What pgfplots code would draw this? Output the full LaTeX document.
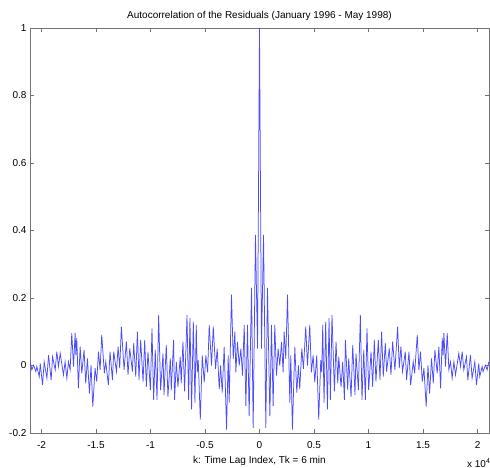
\documentclass[border=0pt]{standalone}
\usepackage{pgfplots}
\pgfplotsset{compat=1.18}
\usepackage{fontspec}
\setmainfont{Liberation Sans}
\begin{document}
\begin{tikzpicture}[font=\fontsize{10pt}{12pt}\selectfont]
\useasboundingbox (0,0) rectangle (490pt,468pt);
\begin{axis}[
  at={(30pt,35pt)}, anchor=south west,
  width=459pt, height=405pt, scale only axis,
  xmin=-2.105, xmax=2.105, ymin=-0.2, ymax=1,
  xtick={-2,-1.5,-1,-0.5,0,0.5,1,1.5,2},
  ytick={-0.2,0,0.2,0.4,0.6,0.8,1},
  xticklabels={-2,-1.5,-1,-0.5,0,0.5,1,1.5,2},
  yticklabels={-0.2,0,0.2,0.4,0.6,0.8,1},
  tick align=inside, major tick length=4pt,
  axis line style={gray!90!black}, tick style={gray!90!black, line width=0.4pt},
  title={Autocorrelation of the Residuals (January 1996 - May 1998)},
  title style={yshift=-2pt},
  xlabel={k: Time Lag Index, Tk = 6 min},
  xlabel style={yshift=-0.5pt},
  xticklabel style={yshift=-5pt},
  /pgf/number format/assume math mode=true,
  clip mode=individual,
]
\addplot[color={rgb,255:red,75;green,75;blue,255}, line width=0.75pt] coordinates {
(-2.103,0.011) (-2.088,-0.013) (-2.072,0.001) (-2.051,-0.018) (-2.042,-0.003) (-2.020,-0.033)
(-2.011,0.006) (-1.990,-0.058) (-1.975,0.011) (-1.950,-0.038) (-1.935,0.031) (-1.911,-0.043)
(-1.898,0.026) (-1.874,-0.013) (-1.859,0.041) (-1.844,-0.003) (-1.828,0.036) (-1.798,-0.028)
(-1.783,0.011) (-1.767,-0.038) (-1.752,0.011) (-1.737,-0.013) (-1.722,0.096) (-1.706,-0.003)
(-1.691,0.096) (-1.684,0.030) (-1.676,0.081) (-1.661,-0.068) (-1.645,0.056) (-1.630,-0.023)
(-1.609,0.046) (-1.594,-0.053) (-1.578,0.021) (-1.560,-0.083) (-1.545,0.001) (-1.529,-0.122)
(-1.508,-0.008) (-1.493,-0.048) (-1.477,0.041) (-1.462,-0.013) (-1.447,0.091) (-1.423,-0.023)
(-1.410,0.011) (-1.386,-0.058) (-1.371,0.041) (-1.349,-0.043) (-1.337,0.041) (-1.312,-0.018)
(-1.297,0.056) (-1.282,-0.008) (-1.267,0.115) (-1.242,-0.013) (-1.221,0.071) (-1.206,-0.028)
(-1.190,0.051) (-1.166,-0.018) (-1.154,0.066) (-1.135,-0.033) (-1.120,0.100) (-1.105,-0.043)
(-1.090,0.076) (-1.068,-0.048) (-1.053,0.076) (-1.038,-0.063) (-1.023,0.041) (-1.001,-0.073)
(-0.986,0.110) (-0.971,-0.102) (-0.956,0.046) (-0.940,-0.102) (-0.925,0.150) (-0.907,-0.073)
(-0.885,0.036) (-0.876,-0.087) (-0.855,0.061) (-0.840,-0.093) (-0.818,0.021) (-0.809,-0.073)
(-0.788,0.076) (-0.779,-0.102) (-0.763,0.011) (-0.748,-0.063) (-0.727,0.026) (-0.718,-0.053)
(-0.702,0.071) (-0.687,-0.077) (-0.665,0.150) (-0.650,-0.102) (-0.638,0.140) (-0.623,-0.130)
(-0.607,0.130) (-0.592,-0.110) (-0.580,0.120) (-0.571,-0.020) (-0.562,0.016) (-0.543,-0.160)
(-0.525,0.030) (-0.507,-0.050) (-0.492,0.030) (-0.476,-0.020) (-0.461,0.120) (-0.440,0.000)
(-0.424,0.115) (-0.403,-0.010) (-0.388,0.050) (-0.369,-0.070) (-0.357,0.000) (-0.342,-0.080)
(-0.324,0.055) (-0.302,-0.190) (-0.287,0.030) (-0.278,-0.110) (-0.257,0.210) (-0.241,0.020)
(-0.226,0.100) (-0.217,-0.020) (-0.202,0.070) (-0.186,0.000) (-0.171,0.050) (-0.156,-0.030)
(-0.140,0.120) (-0.125,-0.120) (-0.110,0.120) (-0.095,-0.150) (-0.073,0.230) (-0.058,-0.185)
(-0.037,0.387) (-0.018,0.050)
(0.000,1.000)
(0.018,0.050) (0.037,0.387) (0.058,-0.185) (0.073,0.230) (0.095,-0.150) (0.110,0.120)
(0.125,-0.120) (0.140,0.120) (0.156,-0.030) (0.171,0.050) (0.186,0.000) (0.202,0.070)
(0.217,-0.020) (0.226,0.100) (0.241,0.020) (0.257,0.210) (0.278,-0.110) (0.287,0.030)
(0.302,-0.190) (0.324,0.055) (0.342,-0.080) (0.357,0.000) (0.369,-0.070) (0.388,0.050)
(0.403,-0.010) (0.424,0.115) (0.440,0.000) (0.461,0.120) (0.476,-0.020) (0.492,0.030)
(0.507,-0.050) (0.525,0.030) (0.543,-0.160) (0.562,0.016) (0.571,-0.020) (0.580,0.120)
(0.592,-0.110) (0.607,0.130) (0.623,-0.130) (0.638,0.140) (0.650,-0.102) (0.665,0.150)
(0.687,-0.077) (0.702,0.071) (0.718,-0.053) (0.727,0.026) (0.748,-0.063) (0.763,0.011)
(0.779,-0.102) (0.788,0.076) (0.809,-0.073) (0.818,0.021) (0.840,-0.093) (0.855,0.061)
(0.876,-0.087) (0.885,0.036) (0.907,-0.073) (0.925,0.150) (0.940,-0.102) (0.956,0.046)
(0.971,-0.102) (0.986,0.110) (1.001,-0.073) (1.023,0.041) (1.038,-0.063) (1.053,0.076)
(1.068,-0.048) (1.090,0.076) (1.105,-0.043) (1.120,0.100) (1.135,-0.033) (1.154,0.066)
(1.166,-0.018) (1.190,0.051) (1.206,-0.028) (1.221,0.071) (1.242,-0.013) (1.267,0.115)
(1.282,-0.008) (1.297,0.056) (1.312,-0.018) (1.337,0.041) (1.349,-0.043) (1.371,0.041)
(1.386,-0.058) (1.410,0.011) (1.423,-0.023) (1.447,0.091) (1.462,-0.013) (1.477,0.041)
(1.493,-0.048) (1.508,-0.008) (1.529,-0.122) (1.545,0.001) (1.560,-0.083) (1.578,0.021)
(1.594,-0.053) (1.609,0.046) (1.630,-0.023) (1.645,0.056) (1.661,-0.068) (1.676,0.081)
(1.684,0.030) (1.691,0.096) (1.706,-0.003) (1.722,0.096) (1.737,-0.013) (1.752,0.011)
(1.767,-0.038) (1.783,0.011) (1.798,-0.028) (1.828,0.036) (1.844,-0.003) (1.859,0.041)
(1.874,-0.013) (1.898,0.026) (1.911,-0.043) (1.935,0.031) (1.950,-0.038) (1.975,0.011)
(1.990,-0.058) (2.011,0.006) (2.020,-0.033) (2.042,-0.003) (2.051,-0.018) (2.072,0.001)
(2.088,-0.013) (2.103,0.011)
};
\node[anchor=west, inner sep=0pt] at (axis description cs:0.952,-0.074) {x 10\textsuperscript{4}};
\end{axis}
\end{tikzpicture}
\end{document}
